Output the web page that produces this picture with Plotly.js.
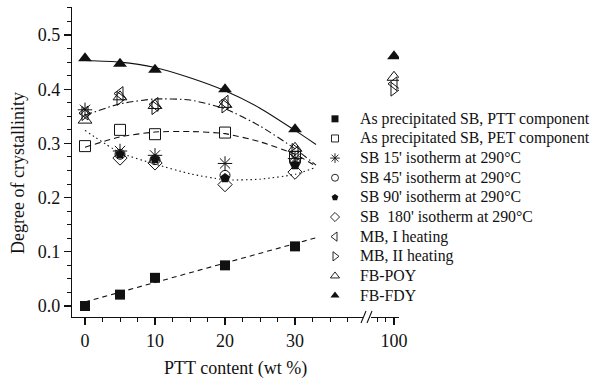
<!DOCTYPE html>
<html>
<head>
<meta charset="utf-8">
<script src="https://cdn.plot.ly/plotly-3.0.1.min.js"></script>
<style>html,body{margin:0;padding:0;background:#fff;}</style>
</head>
<body>
<div id="chart" style="width:591px;height:380px;"></div>
<script>
// ---- data ----
const pttContent = [0, 5, 10, 20, 30];
const pttContentMain = [0, 5, 10, 20, 30, 100];
const pttContentSB = [5, 10, 20, 30];

const sbPTT      = [0.000, 0.021, 0.052, 0.075, 0.110];
const sbPET      = [0.295, 0.325, 0.317, 0.320, 0.275];
const sb15       = [0.362, 0.286, 0.278, 0.263, 0.272];
const sb45       = [0.280, 0.270, 0.241, 0.265];
const sb90       = [0.280, 0.271, 0.236, 0.260];
const sb180      = [0.273, 0.264, 0.224, 0.247];
const mbI        = [0.356, 0.392, 0.372, 0.376, 0.282, 0.410];
const mbII       = [0.355, 0.383, 0.366, 0.369, 0.287, 0.400];
const fbPOY      = [0.343, 0.386, 0.370, 0.372, 0.291, 0.422];
const fbFDY      = [0.457, 0.447, 0.436, 0.400, 0.326, 0.461];

// fitted guide curves
const fitX_FDY   = [0, 5, 10, 15, 20, 25, 30, 33];
const fitY_FDY   = [0.453, 0.450, 0.440, 0.421, 0.397, 0.365, 0.324, 0.298];
const fitX_MB    = [0, 5, 10, 15, 20, 25, 30, 33];
const fitY_MB    = [0.352, 0.373, 0.382, 0.380, 0.364, 0.332, 0.290, 0.260];
const fitX_PET   = [0, 5, 10, 15, 20, 25, 30, 33];
const fitY_PET   = [0.293, 0.312, 0.321, 0.322, 0.318, 0.303, 0.280, 0.258];
const fitX_SB    = [0, 5, 10, 15, 20, 25, 30, 33];
const fitY_SB    = [0.324, 0.283, 0.262, 0.244, 0.233, 0.234, 0.243, 0.256];
const fitX_PTT   = [0, 33.3];
const fitY_PTT   = [0.0075, 0.127];

const legendNames = [
  "As precipitated SB, PTT component",
  "As precipitated SB, PET component",
  "SB 15' isotherm at 290°C",
  "SB 45' isotherm at 290°C",
  "SB 90' isotherm at 290°C",
  "SB&nbsp; 180' isotherm at 290°C",
  "MB, I heating",
  "MB, II heating",
  "FB-POY",
  "FB-FDY"
];

// ---- helpers ----
const K = '#111';
function splitX(xs, ys){ // split points between main and broken axis
  const a = {x:[], y:[]}, b = {x:[], y:[]};
  xs.forEach((v,i)=>{ if (v > 50) { b.x.push(v); b.y.push(ys[i]); } else { a.x.push(v); a.y.push(ys[i]); } });
  return [a,b];
}
function lbl(t){ return '<span style="font-size:15.8px">'+t+'</span>'; }

const traces = [];
function fit(x, y, dash){
  traces.push({x:x, y:y, mode:'lines', line:{color:K, width:1.1, dash:dash, shape:'spline', smoothing:0.6},
               showlegend:false, hoverinfo:'skip', xaxis:'x', yaxis:'y'});
}
fit(fitX_PTT, fitY_PTT, '5px,4px');
fit(fitX_SB, fitY_SB, '1.5px,3px');
fit(fitX_PET, fitY_PET, '6px,4px');
fit(fitX_MB, fitY_MB, '7px,3px,1.5px,3px');
fit(fitX_FDY, fitY_FDY, 'solid');

const legendTraces = [];
function pts(xs, ys, name, symbol, size, lw){
  const [a,b] = splitX(xs, ys);
  const mk = {symbol:symbol, size:size, color:K, line:{color:K, width:lw}};
  traces.push({x:a.x, y:a.y, mode:'markers', marker:mk, showlegend:false, xaxis:'x', yaxis:'y'});
  if (b.x.length) traces.push({x:b.x, y:b.y, mode:'markers', marker:mk, showlegend:false, xaxis:'x2', yaxis:'y'});
  // legend key (smaller symbol, as in the reference key)
  legendTraces.push({x:[null], y:[null], mode:'markers', name:lbl(name), showlegend:true,
    marker:{symbol:symbol, size:Math.round(size*0.68), color:K, line:{color:K, width:lw ? 0.9 : 0}}, xaxis:'x', yaxis:'y'});
}
pts(pttContent, sbPTT, legendNames[0], 'square', 10, 0);
pts(pttContent, sbPET, legendNames[1], 'square-open', 11, 1);
pts(pttContent, sb15, legendNames[2], 'asterisk-open', 12, 1);
pts(pttContentSB, sb45, legendNames[3], 'circle-open', 10, 1);
pts(pttContentSB, sb90, legendNames[4], 'pentagon', 10, 0);
pts(pttContentSB, sb180, legendNames[5], 'diamond-open', 11, 1);
pts(pttContentMain, mbI, legendNames[6], 'triangle-left-open', 12, 1);
pts(pttContentMain, mbII, legendNames[7], 'triangle-right-open', 12, 1);
pts(pttContentMain, fbPOY, legendNames[8], 'triangle-up-open', 12, 1);
pts(pttContentMain, fbFDY, legendNames[9], 'triangle-up', 12, 0);

// ---- layout ----
const L = 72, R = 399, T = 7, B = 317, W = 591, H = 380;
const pw = R - L, ph = B - T;
const px = v => (v - L) / pw, py = v => (B - v) / ph;
const FONT = 'Liberation Serif';

const axBase = {
  showline:true, linecolor:K, linewidth:1.2, ticks:'outside', ticklen:7, tickwidth:1.1, tickcolor:K,
  showgrid:false, zeroline:false, tickfont:{family:FONT, size:18, color:K}, fixedrange:true
};

const layout = {
  width:W, height:H,
  margin:{l:L, r:W-R, t:T, b:H-B, pad:0, autoexpand:false},
  paper_bgcolor:'#fff', plot_bgcolor:'rgba(0,0,0,0)',
  font:{family:FONT, color:K},
  showlegend:true,
  legend:{x:px(310), y:py(104), xanchor:'left', yanchor:'top', bgcolor:'rgba(0,0,0,0)',
          font:{family:FONT, size:12.8, color:K}, itemwidth:40, tracegroupgap:0, traceorder:'normal'},
  xaxis:Object.assign({}, axBase, {domain:[0, px(363)], range:[-1.857, 39.71], tickvals:[0,10,20,30],
          minor:{dtick:2.5, tick0:0, ticklen:4, tickcolor:K, tickwidth:1, ticks:'outside'}}),
  xaxis2:Object.assign({}, axBase, {domain:[px(371), 1], range:[97.29, 100.59], anchor:'y', tickvals:[100],
          minor:{dtick:1, tick0:0, ticklen:4, tickcolor:K, tickwidth:1, ticks:'outside'}}),
  yaxis:Object.assign({}, axBase, {range:[-0.0203, 0.5517], dtick:0.1, tick0:0, tickformat:'.1f',
          minor:{dtick:0.025, tick0:0, ticklen:4, tickcolor:K, tickwidth:1, ticks:'outside'}}),
  annotations:[
    {text:'PTT content (wt %)', xref:'paper', yref:'paper', x:px(235.5), y:py(368), xanchor:'center', yanchor:'middle',
     showarrow:false, font:{family:FONT, size:18, color:K}},
    {text:'Degree of crystallinity', xref:'paper', yref:'paper', x:px(18), y:py(173), xanchor:'center', yanchor:'middle',
     textangle:-90, showarrow:false, font:{family:FONT, size:18, color:K}}
  ],
  shapes:[
    {type:'line', xref:'paper', yref:'paper', x0:px(361), y0:py(323), x1:px(366), y1:py(311), line:{color:K, width:1.1}},
    {type:'line', xref:'paper', yref:'paper', x0:px(367), y0:py(323), x1:px(372), y1:py(311), line:{color:K, width:1.1}}
  ]
};

Plotly.newPlot('chart', traces.concat(legendTraces), layout, {displayModeBar:false, staticPlot:true});
</script>
</body>
</html>
